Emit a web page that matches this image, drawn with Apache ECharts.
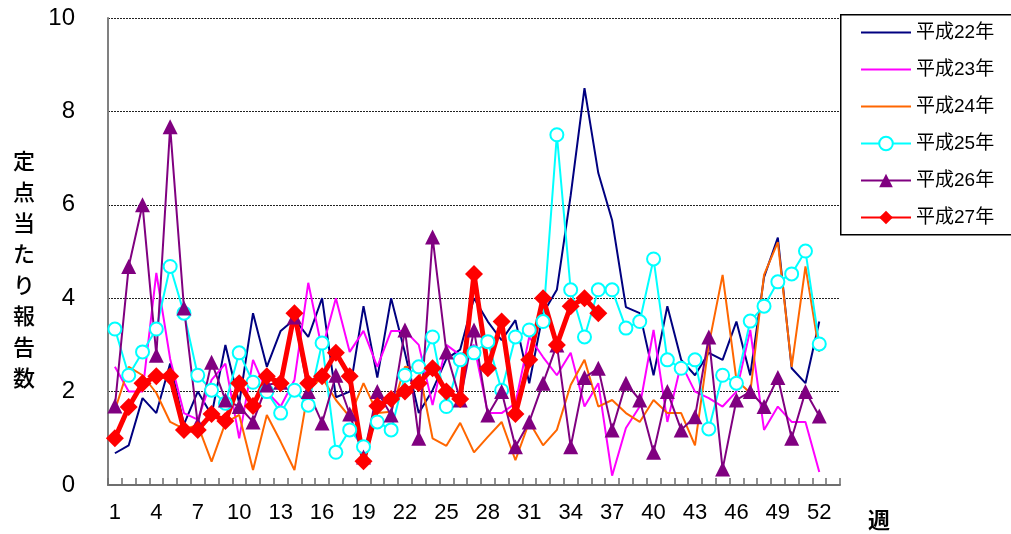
<!DOCTYPE html>
<html>
<head>
<meta charset="utf-8">
<script src="https://cdn.jsdelivr.net/npm/echarts@6/dist/echarts.min.js"></script>
<style>
html,body{margin:0;padding:0;background:#fff;}
#chart{width:1011px;height:534px;}
</style>
</head>
<body>
<div id="chart"></div>
<script>
// weeks (53 categories; week 53 has no data)
const weeks = [];
for (let i = 1; i <= 53; i++) weeks.push(String(i));
const seriesNames = ['平成22年','平成23年','平成24年','平成25年','平成26年','平成27年'];
const yTicks = [0, 2, 4, 6, 8, 10];

const h22 = [0.68,0.85,1.86,1.54,2.6,1.3,2.0,1.5,3.0,1.75,3.68,2.53,3.3,3.55,3.17,4.0,1.88,2.0,3.83,2.3,4.0,2.83,1.54,2.03,2.7,2.9,4.0,3.5,3.1,3.53,2.18,3.68,4.18,6.2,8.5,6.68,5.67,3.81,3.68,2.35,3.83,2.68,2.35,2.83,2.68,3.5,2.35,4.45,5.3,2.5,2.18,3.5];
const h23 = [2.53,2.0,2.0,4.54,2.7,1.54,1.4,2.25,2.6,1.0,2.68,2.0,1.68,2.25,4.33,2.9,4.0,2.85,3.3,2.53,3.3,3.3,3.0,1.71,3.0,2.78,3.0,1.54,1.54,1.75,3.17,2.74,2.35,2.83,1.68,2.18,0.2,1.22,1.68,3.32,1.35,2.6,2.0,1.86,1.68,2.0,3.32,1.18,1.68,1.35,1.35,0.28];
const h24 = [1.6,2.53,2.35,1.97,1.35,1.2,1.28,0.5,1.33,1.5,0.32,1.5,0.93,0.32,2.03,2.3,1.82,1.46,2.18,1.54,1.57,2.53,2.5,1.0,0.84,1.33,0.7,1.03,1.35,0.53,1.35,0.85,1.18,2.14,2.68,1.68,1.82,1.54,1.35,1.82,1.54,1.54,0.85,3.0,4.5,2.25,1.97,4.5,5.2,2.53,4.68,2.85];
const h25 = [3.34,2.35,2.85,3.34,4.68,3.68,2.35,2.03,1.75,2.83,2.2,2.0,1.54,2.03,1.71,3.04,0.7,1.18,0.82,1.35,1.18,2.35,2.53,3.17,1.68,2.68,2.83,3.07,2.03,3.17,3.32,3.5,7.5,4.18,3.17,4.18,4.18,3.36,3.5,4.84,2.68,2.5,2.68,1.2,2.35,2.18,3.51,3.83,4.35,4.52,5.01,3.02];
const h26 = [1.69,4.68,6.0,2.78,7.67,3.79,1.3,2.63,1.82,1.68,1.35,2.14,2.2,3.6,2.0,1.33,2.35,1.52,0.6,2.0,1.5,3.32,1.0,5.31,2.85,1.82,3.32,1.5,2.0,0.82,1.35,2.18,3.0,0.82,2.3,2.5,1.18,2.18,1.82,0.7,2.0,1.18,1.46,3.17,0.34,1.82,2.0,1.68,2.3,1.0,2.0,1.48];
const h27 = [1.0,1.67,2.18,2.33,2.33,1.18,1.18,1.52,1.37,2.18,1.69,2.33,2.18,3.68,2.18,2.33,2.83,2.33,0.51,1.69,1.84,2.0,2.18,2.5,2.0,1.84,4.52,2.5,3.5,1.52,2.68,4.0,3.0,3.83,4.0,3.68];

const FONT = "'Liberation Sans','Noto Sans CJK JP',sans-serif";
const chart = echarts.init(document.getElementById('chart'), null, {renderer: 'canvas'});

function mk(name, data, color, width, symbol, size, fill) {
  return {
    name: name, type: 'line', data: data,
    symbol: symbol, symbolSize: size, showSymbol: symbol !== 'none', showAllSymbol: true,
    lineStyle: {color: color, width: width},
    itemStyle: {color: fill || color, borderColor: color, borderWidth: fill ? 2 : 0},
    emphasis: {disabled: true},
    animation: false, z: 2
  };
}
const noSym = {color: 'rgba(0,0,0,0)', borderColor: 'rgba(0,0,0,0)', borderWidth: 0};

const option = {
  backgroundColor: '#fff',
  animation: false,
  textStyle: {fontFamily: FONT},
  grid: {left: 108, right: 171, top: 18, bottom: 49, containLabel: false},
  xAxis: {
    type: 'category', data: weeks, boundaryGap: true,
    axisLine: {lineStyle: {color: '#6e6e6e', width: 2}},
    axisTick: {show: true, inside: true, length: 7, interval: 0, lineStyle: {color: '#6e6e6e', width: 1.5}},
    axisLabel: {interval: 2, fontSize: 22, color: '#000', margin: 17, fontFamily: FONT},
    splitLine: {show: false}
  },
  yAxis: {
    type: 'value', min: yTicks[0], max: yTicks[yTicks.length - 1], interval: 2,
    axisLine: {show: true, lineStyle: {color: '#808080', width: 2}},
    axisTick: {show: false},
    axisLabel: {fontSize: 24, color: '#000', margin: 33, fontFamily: FONT},
    splitLine: {show: true, lineStyle: {color: '#222', width: 1, type: [2, 1]}}
  },
  legend: {
    orient: 'vertical', left: 860, top: 23, padding: 0,
    itemWidth: 50, itemHeight: 17, itemGap: 18,
    textStyle: {fontSize: 19, color: '#000', fontFamily: FONT},
    data: [
      {name: seriesNames[0], itemStyle: noSym},
      {name: seriesNames[1], itemStyle: noSym},
      {name: seriesNames[2], itemStyle: noSym},
      {name: seriesNames[3]},
      {name: seriesNames[4]},
      {name: seriesNames[5]}
    ],
    z: 10
  },
  graphic: [
    {type: 'rect', left: 840, top: 14, z: 5,
     shape: {width: 200, height: 220},
     style: {fill: '#fff', stroke: '#000', lineWidth: 1.5}},
    {type: 'text', left: 13, top: 145, z: 5,
     style: {text: '定\n点\n当\nた\nり\n報\n告\n数', font: "500 22px 'Noto Sans CJK JP'", fill: '#000', lineHeight: 31}},
    {type: 'text', left: 868, top: 509, z: 5,
     style: {text: '週', font: "bold 22px 'Noto Sans CJK JP'", fill: '#000'}}
  ],
  series: [
    mk(seriesNames[0], h22, '#000080', 2, 'none', 0),
    mk(seriesNames[1], h23, '#FF00FF', 2, 'none', 0),
    mk(seriesNames[2], h24, '#FF6600', 2, 'none', 0),
    mk(seriesNames[3], h25, '#00FFFF', 2, 'circle', 13, '#ffffff'),
    mk(seriesNames[4], h26, '#800080', 2, 'triangle', 15),
    mk(seriesNames[5], h27, '#FF0000', 5, 'diamond', 18)
  ]
};
chart.setOption(option);
</script>
</body>
</html>
